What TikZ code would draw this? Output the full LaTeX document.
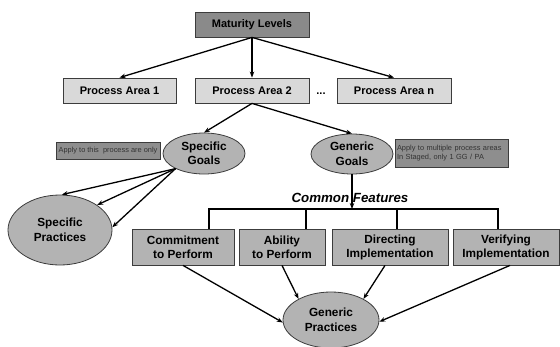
\documentclass[tikz,border=0pt]{standalone}
\usepackage{fontspec}
\setmainfont{Liberation Sans}
\usetikzlibrary{arrows.meta,shapes.geometric}
\definecolor{lightbox}{HTML}{D9D9D9}
\definecolor{darkbox}{HTML}{8A8A8A}
\definecolor{midfill}{HTML}{B3B3B3}
\definecolor{notefill}{HTML}{8E8E8E}
\definecolor{edge}{HTML}{3C3C3C}
\tikzset{
  topbox/.style={draw=edge, line width=0.8pt, fill=lightbox, minimum height=25pt, inner sep=0pt,
    font=\fontsize{11}{13}\selectfont\bfseries},
  headbox/.style={topbox, fill=darkbox},
  featbox/.style={draw=edge, line width=0.8pt, fill=midfill, minimum height=36pt, inner sep=0pt,
    align=center, font=\fontsize{11.8}{14}\selectfont\bfseries},
  oval/.style={ellipse, draw=edge, line width=0.8pt, fill=midfill, inner sep=0pt, align=center,
    font=\fontsize{11.8}{14.5}\selectfont\bfseries},
  note/.style={draw=edge, line width=0.8pt, fill=notefill, inner sep=0pt, align=left,
    text=black!80, font=\fontsize{7.4}{9.5}\selectfont},
  arr/.style={-{Stealth[length=6pt,width=4.5pt]}, line width=1.3pt, black},
  barline/.style={line width=2.2pt, black},
}
\begin{document}
\begin{tikzpicture}[x=1pt,y=-1pt]
\useasboundingbox (0,0) rectangle (560,346);
% top level
\node[headbox, minimum width=114pt] (ml) at (252,24.5) {Maturity Levels};
\node[topbox, minimum width=113pt] (pa1) at (119.5,90.5) {Process Area 1};
\node[topbox, minimum width=114pt] (pa2) at (252,90.5) {Process Area 2};
\node[topbox, minimum width=114pt] (pan) at (394,90.5) {Process Area n};
\node[font=\fontsize{11}{13}\selectfont\bfseries] (dots) at (321,94) {...};
% goals
\node[oval, minimum width=82pt, minimum height=41pt] (sg) at (204,153.5) {Specific\\Goals};
\node[oval, minimum width=82pt, minimum height=40pt] (gg) at (352,154) {Generic\\Goals};
\node[note, minimum width=104pt, minimum height=17pt, align=center] (ap1) at (108,150.5) {Apply to this\ \ process are only};
\node[note, minimum width=113pt, minimum height=28pt, text width=109pt] (ap2) at (451.5,153) {Apply to multiple process areas\\In Staged, only 1 GG / PA};
\node[oval, minimum width=104pt, minimum height=70pt] (sp) at (60,230) {Specific\\Practices};
% common features
\node[font=\fontsize{13.3}{15}\selectfont\bfseries\itshape] (cf) at (350,198) {Common Features};
\node[featbox, minimum width=102pt] (c1) at (183,247) {Commitment\\to Perform};
\node[featbox, minimum width=86pt] (c2) at (282,247) {Ability\\to Perform};
\node[featbox, minimum width=116pt] (c3) at (390,247) {Directing\\Implementation};
\node[featbox, minimum width=106pt] (c4) at (506,247) {Verifying\\Implementation};
\node[oval, minimum width=96pt, minimum height=56pt] (gp) at (331,320) {Generic\\Practices};
% connectors top
\draw[arr] (ml.south) -- (pa1.north);
\draw[arr] (ml.south) -- (pa2.north);
\draw[arr] (ml.south) -- (pan.north);
\draw[arr] (pa2.south) -- (sg.north);
\draw[arr] (pa2.south) -- (gg.north);
\draw[arr] (sg.208) -- (sp.87);
\draw[arr] (sg.208) -- (sp.34);
\draw[arr] (sg.208) -- (sp.3);
% bar
\coordinate (v1) at (209,209);
\coordinate (v2) at (306,209);
\coordinate (v3) at (397,209);
\coordinate (v4) at (498,209);
\draw[barline] (v1 |- c1.north) -- (v1) -- (v4) -- (v4 |- c4.north);
\draw[barline] (v2) -- (v2 |- c2.north);
\draw[barline] (v3) -- (v3 |- c3.north);
\draw[arr] (gg.south) -- (gg.south |- v1);
% to generic practices
\draw[arr] (c1.south) -- (gp.183);
\draw[arr] (c2.south) -- (gp.147);
\draw[arr] ([xshift=-5pt]c3.south) -- (gp.33);
\draw[arr] ([xshift=4pt]c4.south) -- (gp.358);
\end{tikzpicture}
\end{document}
